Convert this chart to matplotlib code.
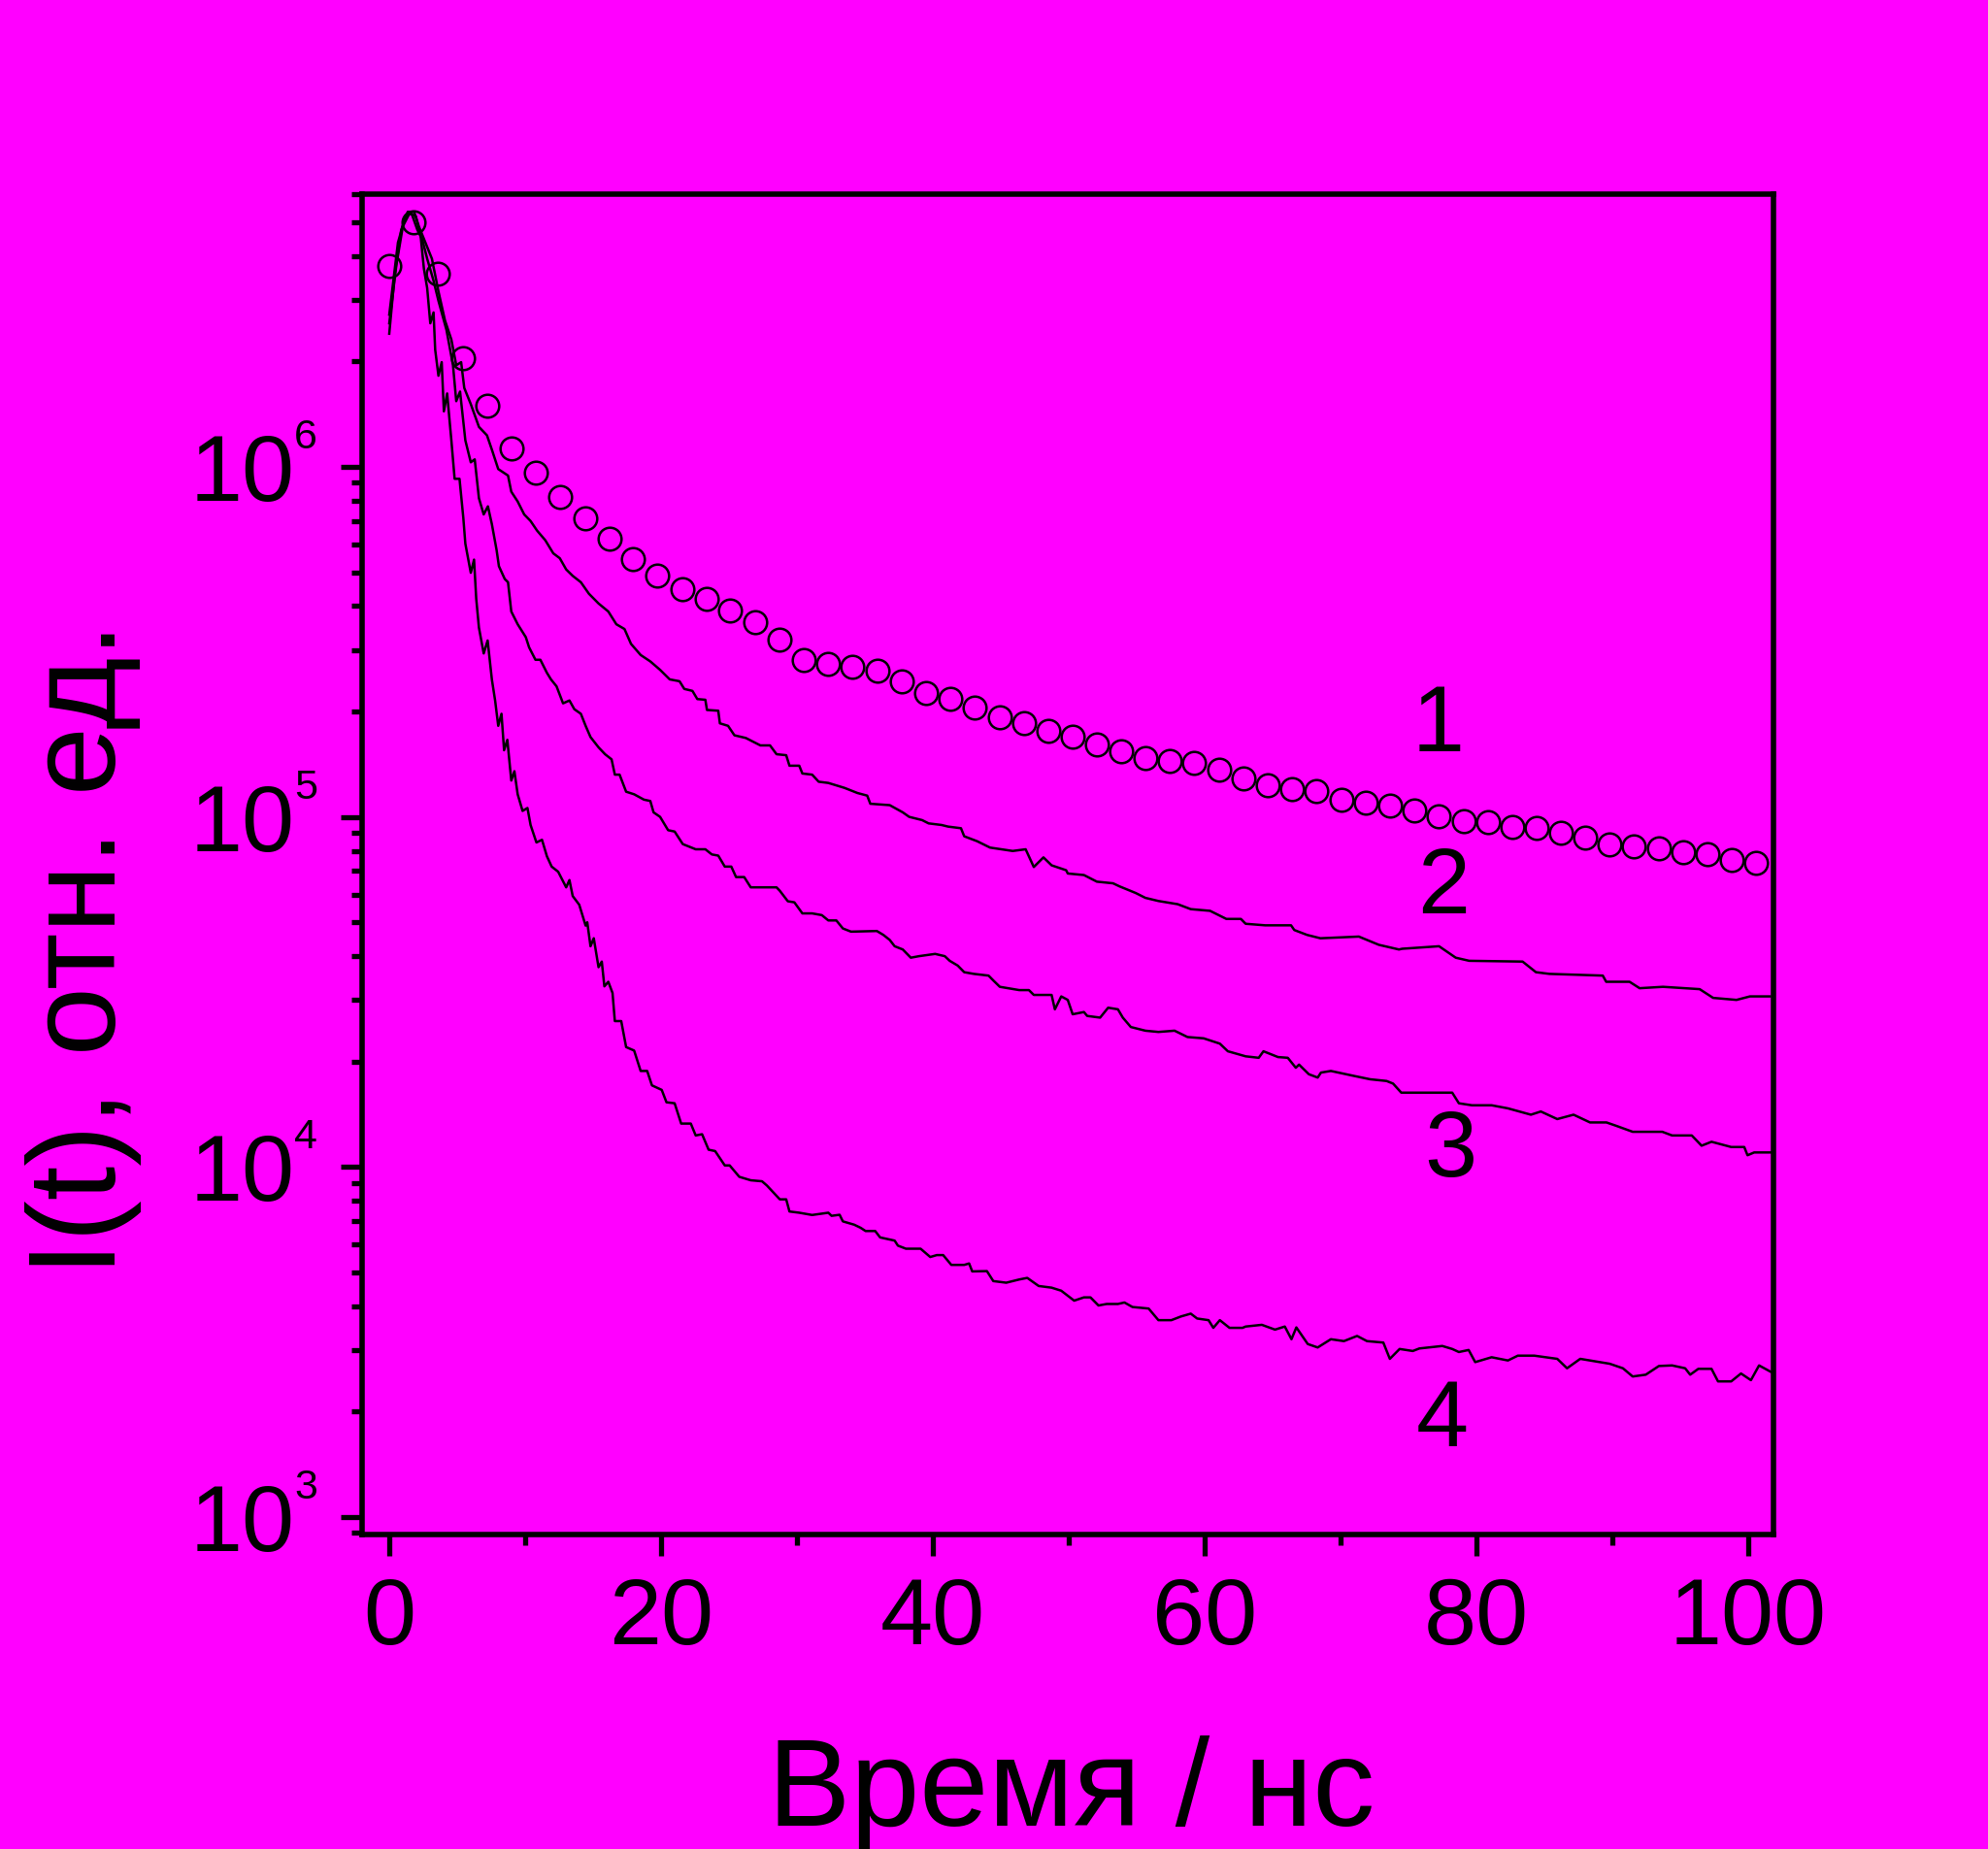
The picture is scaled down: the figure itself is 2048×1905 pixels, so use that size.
import matplotlib
matplotlib.use("Agg")
import matplotlib.pyplot as plt
import matplotlib.transforms as mtransforms
from matplotlib.ticker import MultipleLocator, LogLocator, NullFormatter
import numpy as np

# curve 1 (open circles)
t1 = [0, 1.8, 3.6, 5.4, 7.2, 9.0, 10.8, 12.6, 14.4, 16.2, 17.95, 19.75, 21.55, 23.35,
      25.1, 26.9, 28.7, 30.5, 32.3, 34.1, 35.9, 37.7, 39.5, 41.3, 43.1, 44.9, 46.7,
      48.5, 50.3, 52.05, 53.85, 55.65, 57.45, 59.25, 61.05, 62.85, 64.65, 66.45,
      68.25, 70.05, 71.85, 73.65, 75.45, 77.25, 79.05, 80.85, 82.65, 84.4, 86.2,
      88.0, 89.8, 91.6, 93.4, 95.2, 97.0, 98.8, 100.6]
y1 = [3.75e6, 5.01e6, 3.56e6, 2.04e6, 1.49e6, 1.13e6, 9.6e5, 8.22e5, 7.11e5, 6.23e5,
      5.45e5, 4.90e5, 4.48e5, 4.20e5, 3.88e5, 3.60e5, 3.20e5, 2.81e5, 2.73e5, 2.69e5,
      2.62e5, 2.44e5, 2.26e5, 2.18e5, 2.05e5, 1.93e5, 1.85e5, 1.76e5, 1.69e5, 1.61e5,
      1.54e5, 1.47e5, 1.44e5, 1.43e5, 1.36e5, 1.29e5, 1.23e5, 1.20e5, 1.185e5, 1.12e5,
      1.10e5, 1.08e5, 1.04e5, 1.004e5, 9.74e4, 9.64e4, 9.34e4, 9.28e4, 9.03e4, 8.71e4,
      8.34e4, 8.22e4, 8.13e4, 7.91e4, 7.83e4, 7.55e4, 7.39e4]

# curve 2
t2 = [0, 0.4, 0.88, 1.36, 1.83, 2.19, 2.67, 3.14, 3.62, 4.1, 4.57, 4.93, 5.29, 5.52,
      6.0, 6.6, 7.19, 7.55, 8.02, 8.74, 8.98, 9.45, 9.93, 10.4, 10.88, 11.48, 12.07,
      12.55, 13.02, 13.5, 14.1, 14.69, 15.4, 16.12, 16.71, 17.31, 17.79, 18.5, 19.21,
      19.93, 20.64, 21.36, 21.71, 22.31, 22.67, 23.26, 23.38, 24.21, 24.33, 24.93,
      25.4, 26.24, 27.31, 28.02, 28.5, 29.21, 29.45, 30.17, 30.4, 31.12, 31.6, 32.31,
      33.5, 34.45, 35.17, 35.4, 36.83, 37.79, 38.26, 39.21, 39.69, 40.64, 41.12,
      42.07, 42.31, 43.26, 44.21, 45.88, 46.83, 47.43, 48.14, 48.74, 49.81, 49.93,
      51.12, 52.07, 53.26, 53.74, 54.93, 55.64, 56.6, 58.02, 58.98, 60.4, 61.6,
      62.67, 63.02, 64.45, 66.36, 66.6, 67.54, 68.52, 71.35, 72.82, 74.3, 74.54,
      77.25, 78.48, 79.47, 83.4, 84.38, 85.37, 89.3, 89.55, 91.27, 92.01, 93.73,
      96.43, 97.42, 99.14, 100.13, 101.6]
y2 = [2.40e6, 3.53e6, 4.75e6, 5.35e6, 5.35e6, 4.85e6, 4.36e6, 3.93e6, 3.17e6, 2.62e6,
      2.31e6, 1.95e6, 1.99e6, 1.68e6, 1.51e6, 1.30e6, 1.23e6, 1.12e6, 9.85e5, 9.44e5,
      8.49e5, 7.96e5, 7.31e5, 7.00e5, 6.57e5, 6.17e5, 5.66e5, 5.48e5, 5.09e5, 4.88e5,
      4.68e5, 4.34e5, 4.07e5, 3.86e5, 3.55e5, 3.44e5, 3.12e5, 2.90e5, 2.78e5, 2.63e5,
      2.47e5, 2.44e5, 2.32e5, 2.29e5, 2.17e5, 2.16e5, 2.02e5, 2.01e5, 1.85e5, 1.82e5,
      1.71e5, 1.68e5, 1.60e5, 1.60e5, 1.51e5, 1.50e5, 1.40e5, 1.40e5, 1.33e5, 1.32e5,
      1.26e5, 1.25e5, 1.21e5, 1.17e5, 1.15e5, 1.09e5, 1.08e5, 1.03e5, 1.00e5, 9.79e4,
      9.58e4, 9.48e4, 9.38e4, 9.28e4, 8.80e4, 8.52e4, 8.17e4, 7.99e4, 8.08e4, 7.19e4,
      7.66e4, 7.27e4, 7.04e4, 6.89e4, 6.82e4, 6.53e4, 6.46e4, 6.33e4, 6.06e4, 5.87e4,
      5.75e4, 5.63e4, 5.45e4, 5.39e4, 5.11e4, 5.11e4, 4.95e4, 4.90e4, 4.90e4, 4.75e4,
      4.60e4, 4.50e4, 4.55e4, 4.31e4, 4.18e4, 4.20e4, 4.27e4, 3.96e4, 3.88e4, 3.86e4,
      3.60e4, 3.56e4, 3.52e4, 3.38e4, 3.38e4, 3.24e4, 3.27e4, 3.22e4, 3.04e4, 3.00e4,
      3.07e4, 3.07e4]

# curve 3
t3 = [0, 0.64, 1.12, 1.6, 2.07, 2.43, 2.79, 3.26, 3.62, 4.21, 4.69, 4.93, 5.21, 5.6,
      6.0, 6.29, 6.6, 6.95, 7.26, 7.55, 7.9, 8.07, 8.5, 8.74, 8.98, 9.45, 10.05, 10.29,
      10.76, 11.12, 11.6, 11.9, 12.31, 12.79, 13.26, 13.62, 14.1, 14.45, 14.81, 15.4,
      15.88, 16.36, 16.6, 16.95, 17.43, 18.02, 18.74, 19.21, 19.45, 19.93, 20.52, 21.0,
      21.6, 22.55, 23.26, 23.74, 24.21, 24.69, 25.17, 25.52, 26.12, 26.6, 28.5, 28.74,
      29.33, 29.81, 30.4, 31.12, 31.83, 32.31, 32.9, 33.38, 33.98, 35.88, 36.36, 36.83,
      37.19, 37.79, 38.38, 38.98, 40.17, 40.88, 41.24, 41.83, 42.31, 43.02, 44.1, 44.45,
      44.93, 46.36, 47.07, 47.43, 48.74, 48.98, 49.45, 49.93, 50.29, 51.12, 51.36,
      52.31, 52.9, 53.62, 53.98, 54.57, 55.64, 56.6, 57.79, 58.74, 59.93, 61.12, 61.71,
      63.02, 63.98, 64.33, 65.4, 66.12, 66.71, 66.95, 67.67, 68.32, 68.56, 69.29,
      70.98, 72.18, 73.39, 73.87, 74.47, 78.22, 78.71, 79.67, 81.12, 82.32, 84.01,
      84.74, 85.95, 87.15, 88.36, 89.57, 90.3, 91.5, 93.68, 94.4, 95.85, 96.57, 97.3,
      98.75, 99.71, 99.95, 100.44, 101.65]
y3 = [2.72e6, 4.37e6, 5.07e6, 5.35e6, 4.75e6, 4.46e6, 3.93e6, 3.40e6, 2.98e6, 2.46e6,
      1.95e6, 1.54e6, 1.64e6, 1.19e6, 1.03e6, 1.05e6, 8.13e5, 7.31e5, 7.71e5, 6.86e5,
      5.78e5, 5.20e5, 4.78e5, 4.68e5, 3.86e5, 3.55e5, 3.26e5, 3.05e5, 2.81e5, 2.81e5,
      2.58e5, 2.47e5, 2.36e5, 2.11e5, 2.15e5, 2.03e5, 1.97e5, 1.82e5, 1.69e5, 1.58e5,
      1.51e5, 1.46e5, 1.32e5, 1.32e5, 1.18e5, 1.16e5, 1.12e5, 1.11e5, 1.03e5, 1.00e5,
      9.16e4, 9.08e4, 8.36e4, 8.08e4, 8.08e4, 7.81e4, 7.75e4, 7.21e4, 7.21e4, 6.73e4,
      6.73e4, 6.29e4, 6.29e4, 6.15e4, 5.74e4, 5.70e4, 5.30e4, 5.30e4, 5.24e4, 5.06e4,
      5.06e4, 4.80e4, 4.70e4, 4.72e4, 4.60e4, 4.45e4, 4.27e4, 4.18e4, 3.96e4, 4.00e4,
      4.06e4, 4.00e4, 3.88e4, 3.76e4, 3.60e4, 3.56e4, 3.52e4, 3.41e4, 3.27e4, 3.20e4,
      3.20e4, 3.10e4, 3.10e4, 2.82e4, 3.07e4, 3.00e4, 2.73e4, 2.77e4, 2.70e4, 2.67e4,
      2.85e4, 2.82e4, 2.67e4, 2.51e4, 2.45e4, 2.43e4, 2.45e4, 2.35e4, 2.33e4, 2.25e4,
      2.14e4, 2.07e4, 2.05e4, 2.14e4, 2.06e4, 2.05e4, 1.92e4, 1.96e4, 1.84e4, 1.80e4,
      1.86e4, 1.88e4, 1.82e4, 1.78e4, 1.76e4, 1.73e4, 1.63e4, 1.63e4, 1.52e4, 1.50e4,
      1.50e4, 1.47e4, 1.41e4, 1.44e4, 1.37e4, 1.41e4, 1.34e4, 1.34e4, 1.31e4, 1.26e4,
      1.26e4, 1.23e4, 1.23e4, 1.15e4, 1.18e4, 1.14e4, 1.14e4, 1.08e4, 1.10e4, 1.10e4]

# curve 4
t4 = [0, 0.52, 1.0, 1.48, 1.95, 2.31, 2.55, 2.79, 3.02, 3.26, 3.38, 3.62, 3.86, 4.02,
      4.26, 4.57, 4.81, 5.17, 5.45, 5.6, 6.0, 6.24, 6.4, 6.6, 6.95, 7.24, 7.55, 7.79,
      8.02, 8.26, 8.45, 8.69, 8.98, 9.21, 9.45, 9.81, 10.17, 10.4, 10.83, 11.24, 11.6,
      11.95, 12.43, 13.02, 13.26, 13.5, 13.98, 14.45, 14.57, 14.81, 15.05, 15.4, 15.64,
      15.83, 16.12, 16.43, 16.6, 17.07, 17.43, 18.02, 18.5, 18.98, 19.33, 20.05, 20.4,
      21.0, 21.48, 22.19, 22.55, 23.02, 23.5, 23.98, 24.69, 25.05, 25.76, 26.6, 27.43,
      27.79, 28.74, 29.21, 29.45, 30.17, 31.12, 32.31, 32.55, 33.14, 33.38, 33.86,
      34.21, 34.69, 35.05, 35.76, 36.12, 37.19, 37.43, 38.02, 39.1, 39.81, 40.29,
      40.76, 41.36, 42.31, 42.67, 42.9, 43.98, 44.45, 45.4, 46.36, 46.95, 47.79, 48.74,
      49.45, 50.4, 51.12, 51.6, 52.19, 52.79, 53.62, 54.1, 54.69, 55.88, 56.6, 57.55,
      58.26, 58.98, 59.45, 60.29, 60.64, 61.12, 61.83, 62.79, 63.02, 64.21, 65.18,
      65.9, 66.39, 66.75, 67.59, 68.32, 69.29, 70.25, 71.22, 71.95, 73.15, 73.63,
      74.35, 75.32, 75.8, 77.49, 78.22, 78.71, 79.43, 79.91, 81.12, 82.32, 83.05,
      84.26, 85.95, 86.67, 87.64, 88.36, 89.81, 90.78, 91.5, 92.46, 93.43, 94.4, 95.36,
      95.73, 96.33, 97.3, 97.78, 98.75, 99.47, 100.2, 100.8, 101.65]
y4 = [2.57e6, 3.76e6, 4.86e6, 5.29e6, 5.20e6, 4.56e6, 3.68e6, 3.24e6, 2.57e6, 2.76e6,
      2.16e6, 1.82e6, 1.99e6, 1.44e6, 1.62e6, 1.19e6, 9.24e5, 9.24e5, 7.15e5, 6.03e5,
      4.98e5, 5.43e5, 4.20e5, 3.47e5, 2.93e5, 3.19e5, 2.47e5, 2.15e5, 1.82e5, 1.97e5,
      1.55e5, 1.66e5, 1.27e5, 1.35e5, 1.16e5, 1.04e5, 1.06e5, 9.48e4, 8.45e4, 8.60e4,
      7.72e4, 7.21e4, 6.97e4, 6.29e4, 6.60e4, 5.94e4, 5.61e4, 4.89e4, 5.00e4, 4.27e4,
      4.50e4, 3.72e4, 3.86e4, 3.28e4, 3.38e4, 3.14e4, 2.61e4, 2.61e4, 2.20e4, 2.15e4,
      1.88e4, 1.88e4, 1.71e4, 1.66e4, 1.53e4, 1.52e4, 1.33e4, 1.33e4, 1.23e4, 1.24e4,
      1.12e4, 1.11e4, 1.01e4, 1.01e4, 9.37e3, 9.16e3, 9.10e3, 8.85e3, 8.08e3, 8.08e3,
      7.46e3, 7.40e3, 7.29e3, 7.40e3, 7.25e3, 7.30e3, 6.99e3, 6.90e3, 6.84e3, 6.70e3,
      6.56e3, 6.56e3, 6.29e3, 6.16e3, 5.96e3, 5.84e3, 5.84e3, 5.53e3, 5.60e3, 5.60e3,
      5.25e3, 5.25e3, 5.30e3, 5.03e3, 5.04e3, 4.72e3, 4.67e3, 4.77e3, 4.82e3, 4.57e3,
      4.52e3, 4.43e3, 4.15e3, 4.24e3, 4.24e3, 4.02e3, 4.06e3, 4.06e3, 4.10e3, 3.98e3,
      3.94e3, 3.65e3, 3.65e3, 3.74e3, 3.81e3, 3.69e3, 3.65e3, 3.47e3, 3.65e3, 3.47e3,
      3.47e3, 3.50e3, 3.54e3, 3.43e3, 3.50e3, 3.22e3, 3.48e3, 3.12e3, 3.05e3, 3.22e3,
      3.18e3, 3.29e3, 3.18e3, 3.15e3, 2.83e3, 3.02e3, 2.98e3, 3.03e3, 3.08e3, 3.02e3,
      2.96e3, 3.00e3, 2.77e3, 2.86e3, 2.80e3, 2.89e3, 2.89e3, 2.83e3, 2.66e3, 2.83e3,
      2.80e3, 2.74e3, 2.66e3, 2.52e3, 2.55e3, 2.70e3, 2.71e3, 2.66e3, 2.55e3, 2.65e3,
      2.65e3, 2.44e3, 2.44e3, 2.57e3, 2.46e3, 2.71e3, 2.60e3]

curve_names = ['1', '2', '3', '4']
name_x = [77.2, 77.6, 78.1, 77.5]
name_y = [1.54e5, 5.3e4, 9.4e3, 1.59e3]

decades = [3, 4, 5, 6]

BG = '#FF00FF'
plt.rcParams['font.family'] = ['Liberation Sans', 'DejaVu Sans']

fig = plt.figure(figsize=(20.48, 19.05), dpi=100, facecolor=BG)
ax = fig.add_axes([0.18213, 0.17034, 0.70996, 0.72467])
ax.set_facecolor(BG)

for t, y in [(t2, y2), (t3, y3), (t4, y4)]:
    ax.plot(t, y, color='k', lw=1.8)
ax.plot(t1, y1, ls='none', marker='o', ms=17, mfc='none', mec='k', mew=1.8)

ax.set_yscale('log')
ax.set_xlim(-2.0, 101.86)
ax.set_ylim(894, 6.01e6)

for s in ax.spines.values():
    s.set_linewidth(4.0)

ax.xaxis.set_major_locator(MultipleLocator(20))
ax.xaxis.set_minor_locator(MultipleLocator(10))
ax.set_yticks([10.0 ** d for d in decades])
ax.set_yticklabels(['10'] * len(decades))
ax.yaxis.set_minor_locator(LogLocator(base=10, subs=np.arange(2, 10), numticks=20))
ax.yaxis.set_minor_formatter(NullFormatter())

ax.tick_params(which='both', direction='out', top=False, right=False, width=3.8)
ax.tick_params(which='major', length=16)
ax.tick_params(which='minor', length=8)
ax.tick_params(axis='x', labelsize=70, pad=15)
ax.tick_params(axis='y', labelsize=70, pad=34)

# exponents of the y tick labels
exp_trans = mtransforms.offset_copy(ax.get_yaxis_transform(), fig=fig, x=0, y=19, units='dots')
for d in decades:
    ax.text(-0.0481, 10.0 ** d, str(d), transform=exp_trans, fontsize=31,
            ha='left', va='baseline', clip_on=False)

for name, x, y in zip(curve_names, name_x, name_y):
    ax.text(x, y, name, fontsize=70, ha='center', va='baseline')

fig.text(1104 / 2048, (1905 - 1881) / 1905, 'Время / нс', fontsize=92,
         ha='center', va='baseline')
fig.text(119 / 2048, (1905 - 977) / 1905, 'I(t), отн. ед.', fontsize=92,
         rotation=90, rotation_mode='anchor', ha='center', va='baseline')

fig.savefig('out.png', dpi=100, facecolor=BG)
